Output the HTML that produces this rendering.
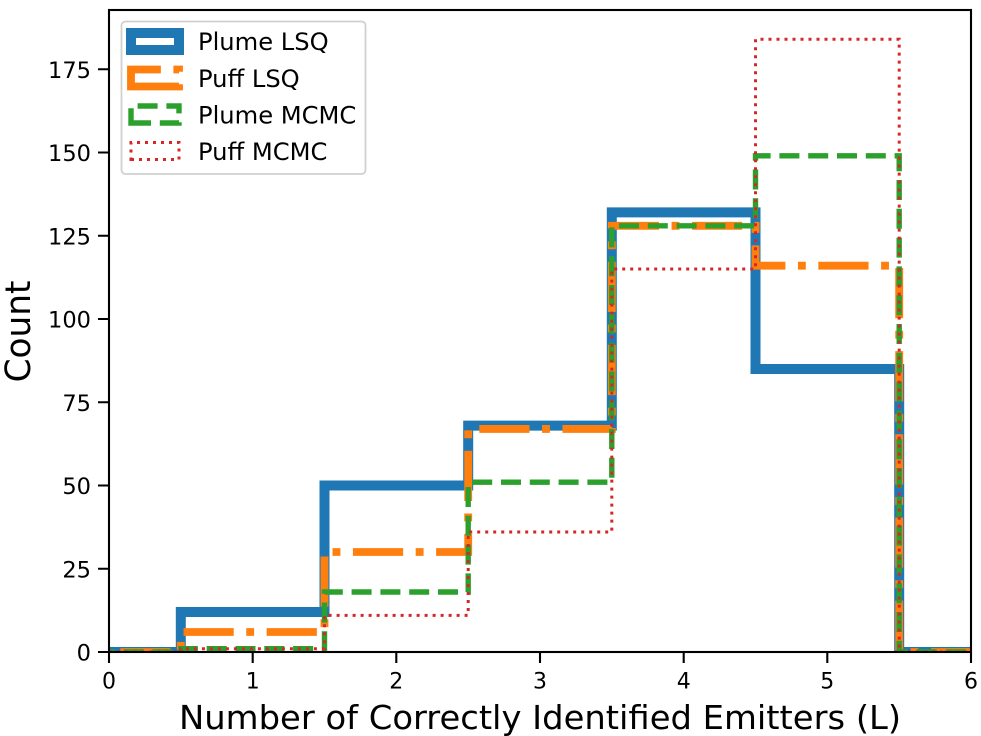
<!DOCTYPE html>
<html><head><meta charset="utf-8"><title>Histogram</title>
<style>
html,body{margin:0;padding:0;background:#fff;width:981px;height:736px;overflow:hidden}
svg{display:block}
text{font-family:"DejaVu Sans",sans-serif;fill:#000}
</style></head>
<body>
<svg width="981" height="736" viewBox="0 0 981 736" xmlns="http://www.w3.org/2000/svg">
<defs><clipPath id="c"><rect x="109" y="10" width="862" height="642"/></clipPath></defs>
<rect width="981" height="736" fill="#fff"/>
<g clip-path="url(#c)" fill="none" stroke-linejoin="miter" stroke-miterlimit="10">
<path stroke="#1f77b4" stroke-width="10" d="M37.2 652H180.8V612H324.5V485.5H468.2V425.6H611.8V212.4H755.5V369H899.2V652H1042.8"/>
<path stroke="#ff7f0e" stroke-width="7.85" stroke-dasharray="50.2 12.55 7.85 12.55" d="M37.2 652H180.8V632H324.5V552H468.2V428.9H611.8V225.8H755.5V265.7H899.2V652H1042.8"/>
<path stroke="#2ca02c" stroke-width="5.4" stroke-dasharray="20 8.8" d="M37.2 652H180.8V648.7H324.5V592H468.2V482.2H611.8V225.8H755.5V155.8H899.2V652H1042.8"/>
<path stroke="#d62728" stroke-width="3" stroke-dasharray="3 5" d="M37.2 652H180.8V648.7H324.5V615.4H468.2V532H611.8V269H755.5V39.3H899.2V652H1042.8"/>
</g>
<g fill="none" stroke="#000" stroke-width="2.1">
<rect x="109" y="10" width="862" height="642"/>
<path d="M109 652v11M252.7 652v11M396.3 652v11M540 652v11M683.7 652v11M827.3 652v11M971 652v11"/>
<path d="M98 652h11M98 568.75h11M98 485.5h11M98 402.25h11M98 319h11M98 235.75h11M98 152.5h11M98 69.25h11"/>
</g>
<g font-size="22" text-anchor="middle">
<text x="109" y="688.5">0</text><text x="252.7" y="688.5">1</text><text x="396.3" y="688.5">2</text><text x="540" y="688.5">3</text><text x="683.7" y="688.5">4</text><text x="827.3" y="688.5">5</text><text x="971" y="688.5">6</text>
</g>
<g font-size="22.5" text-anchor="end">
<text x="91" y="660.5">0</text><text x="91" y="577.25">25</text><text x="91" y="494">50</text><text x="91" y="410.75">75</text><text x="91" y="327.5">100</text><text x="91" y="244.25">125</text><text x="91" y="161">150</text><text x="91" y="77.75">175</text>
</g>
<text x="540" y="729" font-size="33" text-anchor="middle" textLength="722" lengthAdjust="spacingAndGlyphs">Number of Correctly Identified Emitters (L)</text>
<text transform="translate(30 331.5) rotate(-90)" font-size="34.3" text-anchor="middle">Count</text>
<rect x="121.5" y="21.5" width="244" height="152.5" rx="4" ry="4" fill="#fff" fill-opacity=".85" stroke="#d0d0d0" stroke-width="1.8"/>
<g fill="none" stroke-miterlimit="10">
<path stroke="#1f77b4" stroke-width="10" d="M131 50H179V33H131Z"/>
<path stroke="#ff7f0e" stroke-width="7.85" stroke-dasharray="50.2 12.55 7.85 12.55" d="M131 86.5H179V69.5H131Z"/>
<path stroke="#2ca02c" stroke-width="5.4" stroke-dasharray="20 8.8" d="M131 123H179V106H131Z"/>
<path stroke="#d62728" stroke-width="3" stroke-dasharray="3 5" d="M131 159.5H179V142.5H131Z"/>
</g>
<g font-size="24.2">
<text x="198" y="50">Plume LSQ</text>
<text x="198" y="87">Puff LSQ</text>
<text x="198" y="123.5">Plume MCMC</text>
<text x="198" y="160">Puff MCMC</text>
</g>
</svg>
</body></html>
